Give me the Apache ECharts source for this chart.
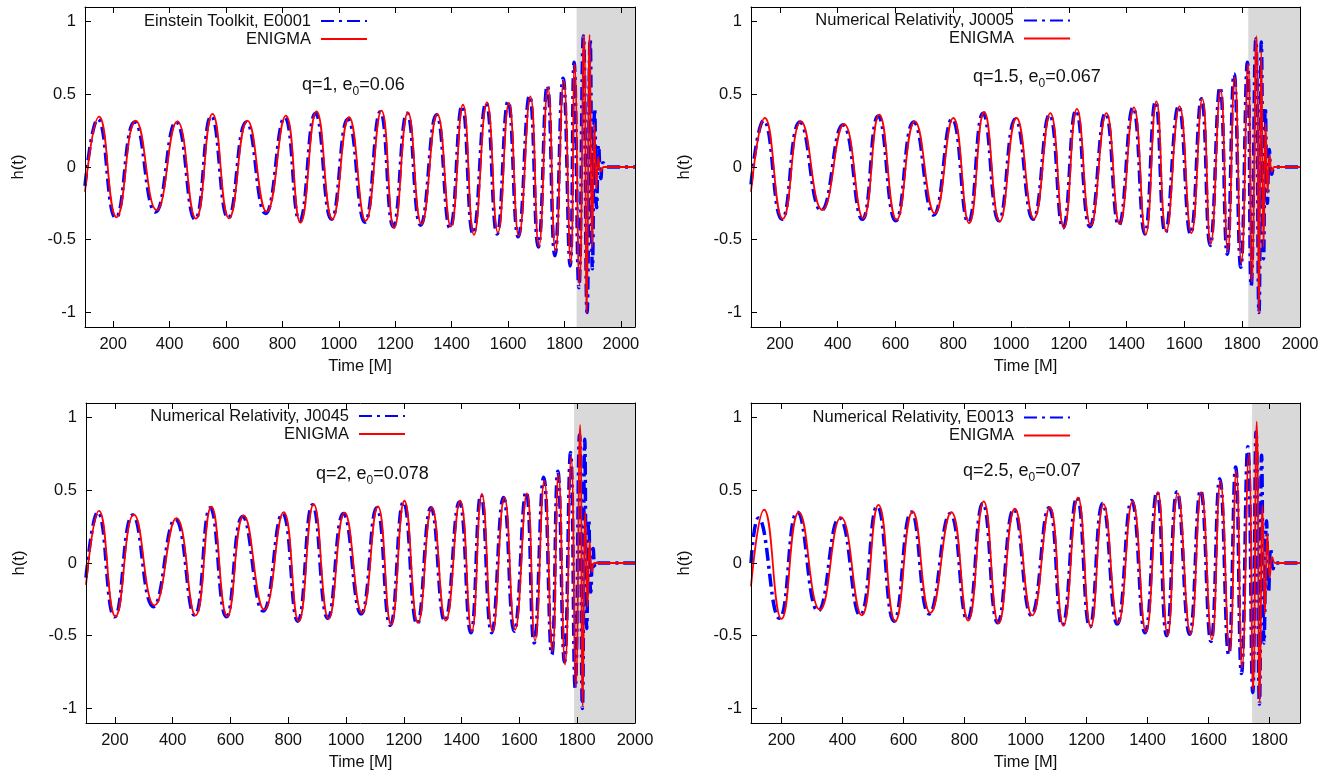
<!DOCTYPE html>
<html><head><meta charset="utf-8">
<script src="https://cdn.jsdelivr.net/npm/echarts@6/dist/echarts.min.js"></script>
<style>html,body{margin:0;padding:0;background:#fff}#c{width:1335px;height:774px}</style>
</head><body><div id="c"></div><script>
// ---------------- data ----------------
const yTicks = [-1, -0.5, 0, 0.5, 1];
const xTicksTo2000 = [200, 400, 600, 800, 1000, 1200, 1400, 1600, 1800, 2000];
const xTicksTo1800 = [200, 400, 600, 800, 1000, 1200, 1400, 1600, 1800];

const nrNameTL = 'Einstein Toolkit, E0001';
const nrNameTR = 'Numerical Relativity, J0005';
const nrNameBL = 'Numerical Relativity, J0045';
const nrNameBR = 'Numerical Relativity, E0013';

const xRangeTL = [100, 2050];
const xRangeTR = [100, 2000];
const xRangeBL = [100, 2000];
const xRangeBR = [100, 1900];

const shadeTL = [1843, 2050];
const shadeTR = [1821, 2000];
const shadeBL = [1789, 2000];
const shadeBR = [1743, 1900];

// ENIGMA (red) and NR (blue) waveform extrema [t, h]
const enigmaTL = [[100,-0.17],[150,0.346],[212,-0.346],[280,0.319],[354,-0.296],[427,0.314],[493,-0.355],[552,0.365],[611,-0.353],[676,0.319],[744,-0.307],[812,0.353],[864,-0.383],[921,0.383],[977,-0.36],[1036,0.342],[1095,-0.37],[1151,0.388],[1196,-0.42],[1245,0.376],[1293,-0.393],[1349,0.364],[1397,-0.409],[1440,0.428],[1479,-0.466],[1525,0.444],[1564,-0.45],[1603,0.44],[1638,-0.473],[1679,0.486],[1709,-0.546],[1741,0.548],[1768,-0.58],[1797,0.593],[1822,-0.661],[1836,0.708],[1853,-0.81],[1869,0.906],[1879,-1.005],[1889,0.91],[1898,-0.55],[1906,0.3],[1913,-0.15],[1920,0.07],[1928,-0.03],[1940,0],[2050,0]];
const nrTL = [[100,-0.13],[146,0.33],[209,-0.35],[276,0.31],[350,-0.31],[423,0.31],[490,-0.36],[548,0.35],[608,-0.35],[672,0.31],[740,-0.32],[808,0.34],[861,-0.37],[917,0.37],[974,-0.36],[1032,0.33],[1092,-0.38],[1147,0.38],[1193,-0.41],[1242,0.37],[1290,-0.40],[1346,0.36],[1394,-0.42],[1437,0.42],[1476,-0.46],[1522,0.44],[1561,-0.46],[1600,0.45],[1636,-0.48],[1676,0.49],[1707,-0.55],[1739,0.56],[1766,-0.61],[1795,0.61],[1820,-0.68],[1834,0.72],[1851,-0.83],[1867,0.9],[1880,-1.0],[1891,0.88],[1899,-0.7],[1907,0.4],[1914,-0.28],[1921,0.15],[1929,-0.08],[1937,0.03],[1950,0],[2050,0]];

const enigmaTR = [[100,-0.17],[148,0.337],[210,-0.356],[273,0.314],[347,-0.296],[422,0.295],[488,-0.351],[544,0.36],[604,-0.363],[667,0.314],[736,-0.319],[800,0.337],[855,-0.386],[907,0.378],[961,-0.374],[1019,0.337],[1079,-0.356],[1136,0.371],[1183,-0.42],[1228,0.399],[1276,-0.402],[1330,0.371],[1376,-0.393],[1425,0.41],[1466,-0.462],[1503,0.451],[1537,-0.443],[1583,0.417],[1624,-0.455],[1662,0.47],[1691,-0.53],[1725,0.532],[1750,-0.576],[1774,0.617],[1797,-0.661],[1820,0.708],[1833,-0.787],[1849,0.899],[1858,-1.005],[1866,0.8],[1874,-0.55],[1881,0.3],[1888,-0.18],[1895,0.08],[1903,-0.03],[1912,0],[2000,0]];
const nrTR = [[100,-0.12],[144,0.32],[207,-0.36],[269,0.31],[343,-0.3],[418,0.29],[485,-0.36],[540,0.35],[601,-0.37],[663,0.31],[732,-0.33],[796,0.33],[852,-0.38],[903,0.37],[958,-0.37],[1015,0.33],[1076,-0.36],[1133,0.36],[1180,-0.42],[1225,0.39],[1273,-0.41],[1327,0.37],[1373,-0.4],[1422,0.41],[1463,-0.46],[1500,0.45],[1534,-0.45],[1580,0.42],[1621,-0.46],[1659,0.47],[1689,-0.54],[1723,0.55],[1748,-0.6],[1772,0.64],[1795,-0.69],[1818,0.72],[1831,-0.82],[1847,0.88],[1858,-1.0],[1866,0.86],[1874,-0.63],[1880,0.41],[1887,-0.25],[1894,0.12],[1902,-0.05],[1915,0],[2000,0]];

const enigmaBL = [[100,-0.15],[145,0.359],[202,-0.367],[266,0.332],[337,-0.291],[413,0.309],[479,-0.36],[534,0.387],[589,-0.367],[646,0.327],[717,-0.321],[784,0.35],[836,-0.401],[888,0.405],[940,-0.382],[995,0.347],[1055,-0.343],[1110,0.389],[1156,-0.424],[1202,0.428],[1249,-0.412],[1297,0.382],[1345,-0.396],[1395,0.428],[1435,-0.47],[1470,0.474],[1507,-0.47],[1548,0.45],[1585,-0.459],[1626,0.478],[1654,-0.533],[1686,0.565],[1714,-0.606],[1735,0.611],[1758,-0.698],[1779,0.732],[1795,-0.847],[1810,0.95],[1819,-0.985],[1828,0.35],[1836,-0.3],[1843,0.15],[1851,-0.06],[1860,0],[2000,0]];
const nrBL = [[100,-0.1],[141,0.35],[199,-0.37],[262,0.33],[333,-0.3],[409,0.3],[476,-0.36],[530,0.38],[586,-0.37],[642,0.32],[713,-0.33],[780,0.34],[833,-0.4],[884,0.4],[937,-0.38],[991,0.34],[1052,-0.35],[1106,0.38],[1153,-0.43],[1199,0.42],[1246,-0.42],[1294,0.38],[1342,-0.4],[1392,0.42],[1432,-0.48],[1467,0.47],[1504,-0.48],[1545,0.45],[1582,-0.47],[1623,0.49],[1651,-0.55],[1684,0.59],[1712,-0.63],[1733,0.63],[1756,-0.68],[1777,0.76],[1793,-0.86],[1808,0.88],[1818,-1.0],[1826,0.85],[1833,-0.45],[1840,0.3],[1847,-0.2],[1855,0.1],[1863,-0.03],[1872,0],[2000,0]];

const enigmaBR = [[100,-0.16],[143,0.366],[200,-0.384],[257,0.35],[326,-0.321],[395,0.313],[463,-0.36],[518,0.4],[573,-0.401],[630,0.354],[688,-0.343],[757,0.35],[812,-0.396],[863,0.423],[912,-0.415],[965,0.373],[1022,-0.36],[1080,0.382],[1124,-0.43],[1172,0.45],[1214,-0.439],[1256,0.405],[1304,-0.412],[1351,0.423],[1395,-0.474],[1434,0.487],[1466,-0.497],[1499,0.481],[1541,-0.487],[1576,0.487],[1611,-0.527],[1639,0.56],[1669,-0.606],[1691,0.634],[1710,-0.721],[1732,0.75],[1746,-0.87],[1758,0.972],[1768,-0.961],[1777,0.4],[1785,-0.35],[1793,0.2],[1801,-0.1],[1809,0.04],[1820,0],[1900,0]];
const nrBR = [[100,0.0],[124,0.31],[193,-0.38],[252,0.35],[320,-0.33],[390,0.31],[458,-0.36],[514,0.39],[569,-0.4],[626,0.35],[684,-0.35],[753,0.34],[809,-0.39],[860,0.41],[909,-0.41],[962,0.37],[1019,-0.36],[1077,0.38],[1121,-0.43],[1169,0.45],[1211,-0.44],[1253,0.41],[1301,-0.42],[1348,0.43],[1392,-0.48],[1431,0.49],[1463,-0.5],[1497,0.49],[1538,-0.49],[1574,0.5],[1608,-0.54],[1637,0.58],[1666,-0.63],[1689,0.66],[1708,-0.76],[1729,0.8],[1745,-0.89],[1756,0.9],[1767,-0.97],[1774,0.74],[1782,-0.55],[1790,0.29],[1797,-0.2],[1804,0.1],[1812,-0.04],[1822,0],[1900,0]];

const noteTL = ['q=1, e', '0', '=0.06'];
const noteTR = ['q=1.5, e', '0', '=0.067'];
const noteBL = ['q=2, e', '0', '=0.078'];
const noteBR = ['q=2.5, e', '0', '=0.07'];

// ---------------- layout ----------------
const FONT = '"Liberation Sans", Arial, Helvetica, sans-serif';
const FS = 16.5;
const TXT = '#111';
const panels = [
  {grid:[85,7,550,320], x:xRangeTL, ticks:xTicksTo2000, shade:shadeTL, nrName:nrNameTL, nr:nrTL, en:enigmaTL, note:noteTL, notePos:[302,87], legend:[967,12.5]},
  {grid:[751,7,549,320], x:xRangeTR, ticks:xTicksTo2000, shade:shadeTR, nrName:nrNameTR, nr:nrTR, en:enigmaTR, note:noteTR, notePos:[973,79], legend:[264,12]},
  {grid:[86,403,549,320], x:xRangeBL, ticks:xTicksTo2000, shade:shadeBL, nrName:nrNameBL, nr:nrBL, en:enigmaBL, note:noteBL, notePos:[316,476], legend:[929,407.5]},
  {grid:[751,403,549,320], x:xRangeBR, ticks:xTicksTo1800, shade:shadeBR, nrName:nrNameBR, nr:nrBR, en:enigmaBR, note:noteBR, notePos:[963,473], legend:[264,409]}
];

const grids=[], xAxes=[], yAxes=[], series=[], legends=[], graphics=[];
const lbl = {color:TXT, fontSize:FS, fontFamily:FONT};
panels.forEach((p,i)=>{
  grids.push({left:p.grid[0], top:p.grid[1], width:p.grid[2], height:p.grid[3], show:false});
  const line = {show:true, onZero:false, lineStyle:{color:'#000', width:1}};
  xAxes.push({type:'value', gridIndex:i, min:p.x[0], max:p.x[1], position:'bottom', z:10,
    axisLine:line,
    axisTick:{show:true, inside:true, length:6, customValues:p.ticks, lineStyle:{color:'#000'}},
    axisLabel:Object.assign({customValues:p.ticks, margin:9, formatter:v=>String(v)}, lbl),
    splitLine:{show:false},
    name:'Time [M]', nameLocation:'middle', nameGap:31, nameTextStyle:lbl});
  xAxes.push({type:'value', gridIndex:i, min:p.x[0], max:p.x[1], position:'top', z:10,
    axisLine:line,
    axisTick:{show:true, inside:true, length:6, customValues:p.ticks, lineStyle:{color:'#000'}},
    axisLabel:{show:false}, splitLine:{show:false}});
  yAxes.push({type:'value', gridIndex:i, min:-1.1, max:1.1, position:'left', z:10,
    axisLine:line,
    axisTick:{show:true, inside:true, length:6, customValues:yTicks, lineStyle:{color:'#000'}},
    axisLabel:Object.assign({customValues:yTicks, margin:9}, lbl),
    splitLine:{show:false},
    name:'h(t)', nameLocation:'middle', nameGap:58, nameRotate:90, nameTextStyle:lbl});
  yAxes.push({type:'value', gridIndex:i, min:-1.1, max:1.1, position:'right', z:10,
    axisLine:line, axisTick:{show:false}, axisLabel:{show:false}, splitLine:{show:false}});
  series.push({type:'line', name:p.nrName, xAxisIndex:2*i, yAxisIndex:2*i, data:p.nr,
    smooth:0.5, symbol:'none', showSymbol:false, legendIcon:'none', animation:false, z:2,
    lineStyle:{color:'#0000ff', width:3.5, type:[13,5,3,5]}, itemStyle:{color:'#0000ff'},
    markArea:{silent:true, itemStyle:{color:'#d9d9d9', opacity:1}, label:{show:false},
      data:[[{xAxis:p.shade[0]},{xAxis:p.shade[1]}]]}});
  series.push({type:'line', name:'ENIGMA', xAxisIndex:2*i, yAxisIndex:2*i, data:p.en,
    smooth:0.5, symbol:'none', showSymbol:false, legendIcon:'none', animation:false, z:3,
    lineStyle:{color:'#ff0000', width:1.8}, itemStyle:{color:'#ff0000'}});
  legends.push({data:[p.nrName,'ENIGMA'], orient:'vertical', align:'right',
    right:p.legend[0], top:p.legend[1], itemWidth:46, itemHeight:14, itemGap:1,
    selectedMode:false, padding:0, itemStyle:{opacity:0},
    textStyle:{color:TXT, fontSize:FS, fontFamily:FONT, padding:[0,5,0,0]}});
  graphics.push({type:'text', x:p.notePos[0], y:p.notePos[1], z:20,
    style:{text:'{a|'+p.note[0]+'}{b|'+p.note[1]+'}{a|'+p.note[2]+'}',
      verticalAlign:'middle', fill:TXT,
      rich:{a:{fontSize:18, fontFamily:FONT, color:TXT, verticalAlign:'top'},
            b:{fontSize:12, fontFamily:FONT, color:TXT, verticalAlign:'top', padding:[9,0,0,0]}}}});
});

const chart = echarts.init(document.getElementById('c'), null, {renderer:'canvas'});
chart.setOption({
  backgroundColor:'#fff', animation:false,
  grid:grids, xAxis:xAxes, yAxis:yAxes, series:series, legend:legends, graphic:graphics
});
</script></body></html>
